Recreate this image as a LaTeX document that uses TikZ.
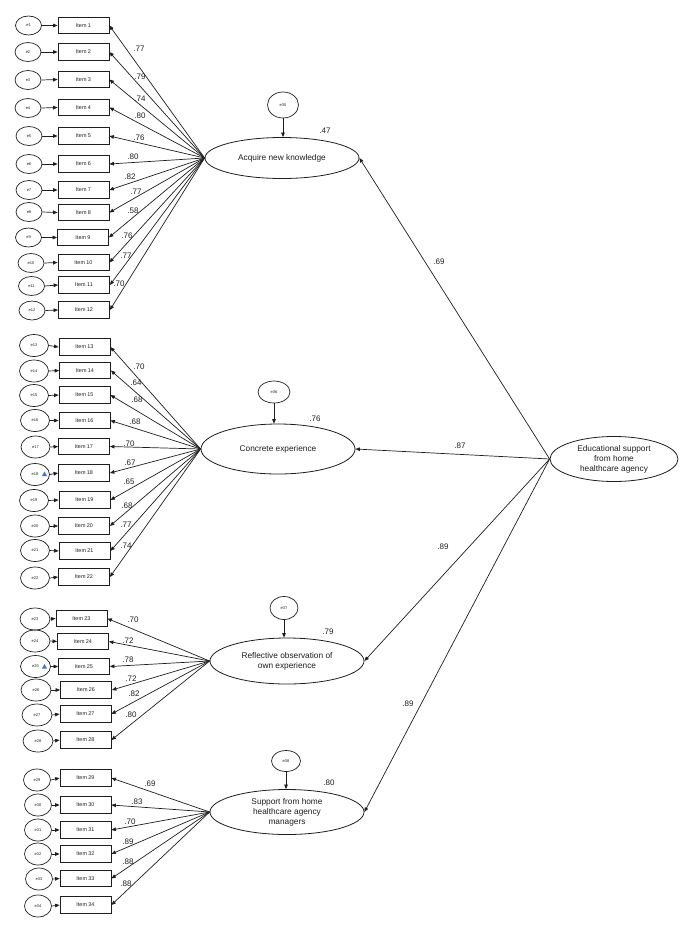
\documentclass[tikz,border=0pt]{standalone}
\usepackage{fontspec}
\setmainfont{Liberation Sans}
\usetikzlibrary{arrows.meta,shapes.geometric}
\definecolor{bluemark}{RGB}{70,110,210}
\definecolor{ink}{RGB}{30,30,30}
\begin{document}
\begin{tikzpicture}[x=1pt,y=-1pt,
  itembox/.style={draw=ink,line width=0.8pt,minimum width=51pt,minimum height=16.5pt,inner sep=0pt,text=ink,font=\fontsize{5.4}{6}\selectfont},
  errell/.style={draw=ink,ellipse,line width=0.7pt,inner sep=0pt,text=ink,font=\fontsize{4}{4.5}\selectfont},
  latent/.style={draw=ink,ellipse,line width=0.8pt,inner sep=0pt,align=center,text=ink,font=\fontsize{8.3}{10}\selectfont},
  arr/.style={draw=ink,-{Triangle[length=4.5pt,width=3.6pt]},line width=0.7pt},
  coef/.style={font=\fontsize{8}{9}\selectfont,inner sep=0pt,text=ink},
]
\useasboundingbox (0,0) rectangle (685,930);

% latent variables
\node[latent,minimum width=154pt,minimum height=41pt] (F1) at (282,158) {Acquire new knowledge};
\node[latent,minimum width=154pt,minimum height=50pt] (F2) at (278,449) {Concrete experience};
\node[latent,minimum width=154pt,minimum height=46pt] (F3) at (287,661) {Reflective observation of\\own experience};
\node[latent,minimum width=154pt,minimum height=45pt] (F4) at (287,812) {Support from home\\healthcare agency\\managers};
\node[latent,minimum width=128pt,minimum height=45pt] (G) at (614,459) {Educational support\\from home\\healthcare agency};

% disturbances
\node[errell,minimum width=31pt,minimum height=26pt] (e35) at (283,105) {e35};
\node[errell,minimum width=32pt,minimum height=22pt] (e36) at (274,392) {e36};
\node[errell,minimum width=28pt,minimum height=23pt] (e37) at (284,608) {e37};
\node[errell,minimum width=29pt,minimum height=21pt] (e38) at (286,761) {e38};
\draw[arr] (e35.south) -- (e35.south |- F1.north);
\draw[arr] (e36.south) -- (e36.south |- F2.north);
\draw[arr] (e37.south) -- (e37.south |- F3.north);
\draw[arr] (e38.south) -- (e38.south |- F4.north);

% structural paths
\draw[arr] (G.west) -- (F1.east);
\draw[arr] (G.west) -- (F2.east);
\draw[arr] (G.west) -- (F3.east);
\draw[arr] (G.west) -- (F4.east);

% block 1
\foreach \n/\bx/\by/\ex/\ey in {1/83.5/25.5/28.5/25.5, 2/83.5/52/28/52, 3/83.5/79.5/28/80, 4/83.5/107.5/28/108, 5/83.5/136/29/136, 6/83.5/164/29/164, 7/83.5/190/29/190, 8/83.5/212.5/29/212, 9/83/237.5/28.5/237.5, 10/83.5/262.5/31/263, 11/84/285/31.5/286, 12/84/310/32/310.5} {
  \node[itembox] (i\n) at (\bx,\by) {Item \n};
  \node[errell,minimum width=26pt,minimum height=19pt] (e\n) at (\ex,\ey) {e\n};
  \draw[arr] (e\n.east) -- (i\n.west);
  \draw[arr] (F1.west) -- (i\n.east);
}
% block 2
\foreach \n/\bx/\by/\ex/\ey in {13/84.5/347/34/345.5, 14/85/370.5/34/371, 15/84.5/395/34/395.5, 16/84.5/420.5/35/420.5, 17/84/446.5/35.5/447, 18/84/473/35/474.5, 19/84.5/500/34/500.5, 20/84/526/35/526, 21/84.5/551/35/550.5, 22/84/577/35/578} {
  \node[itembox] (i\n) at (\bx,\by) {Item \n};
  \node[errell,minimum width=29pt,minimum height=22pt] (e\n) at (\ex,\ey) {e\n};
  \draw[arr] (e\n.east) -- (i\n.west);
  \draw[arr] (F2.west) -- (i\n.east);
}
% block 3
\foreach \n/\bx/\by/\ex/\ey in {23/81.5/618.5/35/619, 24/83/641.5/35/641, 25/84/666.5/35.5/666.5, 26/86/690/36/690, 27/85.5/714/37/715, 28/85.5/740/38/741} {
  \node[itembox] (i\n) at (\bx,\by) {Item \n};
  \node[errell,minimum width=30pt,minimum height=22pt] (e\n) at (\ex,\ey) {e\n};
  \draw[arr] (e\n.east) -- (i\n.west);
  \draw[arr] (F3.west) -- (i\n.east);
}
% block 4
\foreach \n/\bx/\by/\ex/\ey in {29/85.5/778/37/780, 30/85.5/805/38/805, 31/85.5/830/38/830, 32/85.5/854/38/854, 33/85.5/878.5/39/879, 34/85.5/905/38/906} {
  \node[itembox] (i\n) at (\bx,\by) {Item \n};
  \node[errell,minimum width=27pt,minimum height=22pt] (e\n) at (\ex,\ey) {e\n};
  \draw[arr] (e\n.east) -- (i\n.west);
  \draw[arr] (F4.west) -- (i\n.east);
}

% small blue marks
\fill[bluemark] (42,476) -- (47,476) -- (44.5,471.5) -- cycle;
\fill[bluemark] (42,668.5) -- (47,668.5) -- (44.5,664) -- cycle;

% loadings
\foreach \t/\x/\y [count=\k] in {.77/139/49, .79/140/77, .74/140/99, .80/140/116, .76/139/138, .80/133/157, .82/130/177, .77/136/192, .58/133/211, .76/127/236, .77/126/256, .70/119/284,
 .70/139/367, .64/136/383, .68/137/400, .68/135/422, .70/129/444, .67/130/463, .65/129/482, .68/127/506, .77/126/525, .74/126/546,
 .70/133/620, .72/128/641, .78/128/660, .72/131/679, .82/134/694, .80/131/715,
 .69/150/784, .83/137/802, .70/130/822, .89/128/842, .88/128/862, .88/126/884,
 .69/439/262, .87/460/446, .89/443/547, .89/408/704,
 .47/325/131, .76/315/419, .79/328/632, .80/329/783} {
  \node[coef] (c\k) at (\x,\y) {\t};
}
\end{tikzpicture}
\end{document}
